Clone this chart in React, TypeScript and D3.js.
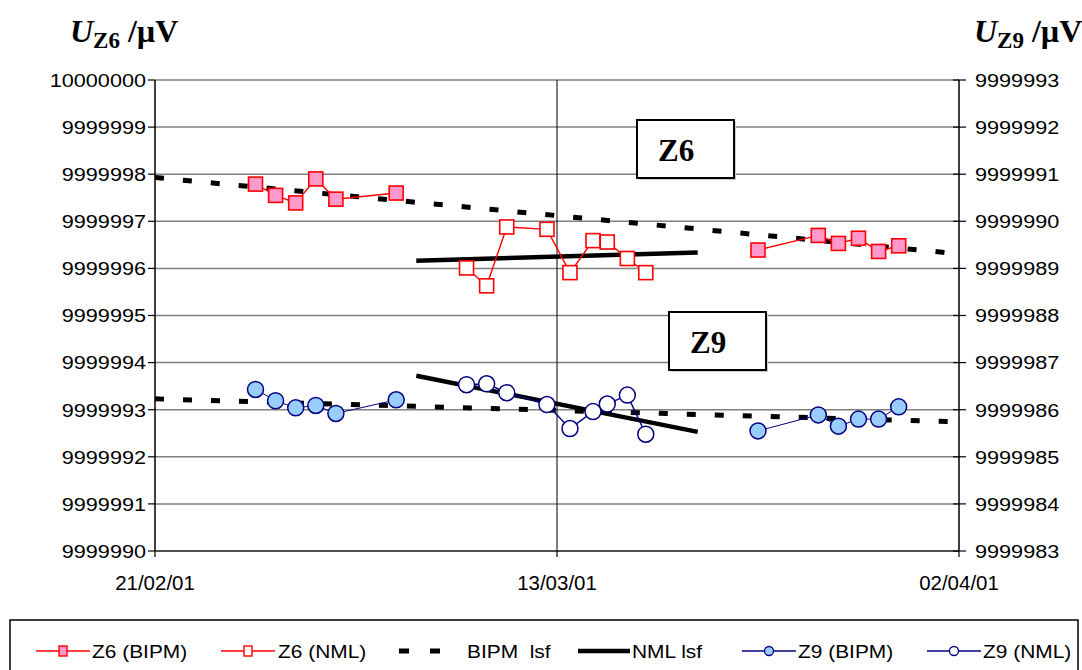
import React, { useEffect } from 'react';
import * as d3 from 'd3';

// ---- data ----
const parse = d3.timeParse('%d/%m/%y %H:%M');

const xTicks = ['21/02/01 00:00', '13/03/01 00:00', '02/04/01 00:00'];

// Z6 (BIPM) – null marks the gap between the two BIPM periods
const z6BipmDates = ['26/02/01 00:00', '27/02/01 00:00', '28/02/01 00:00', '01/03/01 00:00', '02/03/01 00:00', '05/03/01 00:00', null,
  '23/03/01 00:00', '26/03/01 00:00', '27/03/01 00:00', '28/03/01 00:00', '29/03/01 00:00', '30/03/01 00:00'];
const z6BipmValues = [9999997.79, 9999997.55, 9999997.39, 9999997.90, 9999997.47, 9999997.60, null,
  9999996.39, 9999996.70, 9999996.53, 9999996.64, 9999996.36, 9999996.48];

const nmlDates = ['08/03/01 12:00', '09/03/01 12:00', '10/03/01 12:00', '12/03/01 12:00', '13/03/01 15:30',
  '14/03/01 19:00', '15/03/01 12:00', '16/03/01 12:00', '17/03/01 10:00'];
const z6NmlValues = [9999996.01, 9999995.63, 9999996.88, 9999996.83, 9999995.91, 9999996.59, 9999996.56, 9999996.21, 9999995.91];

const z9BipmValues = [9999986.43, 9999986.19, 9999986.04, 9999986.09, 9999985.92, 9999986.21, null,
  9999985.55, 9999985.89, 9999985.65, 9999985.80, 9999985.80, 9999986.06];
const z9NmlValues = [9999986.53, 9999986.55, 9999986.36, 9999986.11, 9999985.60, 9999985.96, 9999986.12, 9999986.31, 9999985.48];

// least squares fits, as end points
const bipmLsfDates = ['21/02/01 00:00', '02/04/01 00:00'];
const z6BipmLsf = [9999997.93, 9999996.31];
const z9BipmLsf = [9999986.23, 9999985.74];
const nmlLsfDates = ['06/03/01 00:00', '20/03/01 00:00'];
const z6NmlLsf = [9999996.16, 9999996.34];
const z9NmlLsf = [9999986.72, 9999985.53];

type Pt = { d: Date | null; v: number | null };
const zip = (dates: (string | null)[], vals: (number | null)[]): Pt[] =>
  dates.map((s, i) => ({ d: s ? parse(s) : null, v: vals[i] }));

const W = 1082, H = 670;
const left = 155, right = 959, top = 80, bottom = 551;

const RED = '#FF0000', PINK = '#FF99CC', NAVY = '#000080', LBLUE = '#99CCFF';
const SANS = 'Arial, "Liberation Sans", sans-serif';
const SERIF = '"Times New Roman", "Liberation Serif", serif';

// the original text is a little wider than the font, so stretch it
const Stretch = ({ x, y, sx = 1.14, anchor = 'start', size = 19, children }:
  { x: number; y: number; sx?: number; anchor?: string; size?: number; children: React.ReactNode }) => (
  <text transform={`translate(${x},${y}) scale(${sx},1)`} dy="0.36em" textAnchor={anchor}
    fontFamily={SANS} fontSize={size} style={{ whiteSpace: 'pre' }}>{children}</text>
);

export default function App() {
  useEffect(() => { document.body.style.margin = '0'; }, []);

  const x = d3.scaleTime()
    .domain([parse(xTicks[0])!, parse(xTicks[2])!])
    .range([left, right]);
  const yL = d3.scaleLinear().domain([9999990, 10000000]).range([bottom, top]);
  const yR = d3.scaleLinear().domain([9999983, 9999993]).range([bottom, top]);

  const lineFor = (y: d3.ScaleLinear<number, number>) => d3.line<Pt>()
    .defined(p => p.d !== null && p.v !== null)
    .x(p => x(p.d!))
    .y(p => y(p.v!));

  const z6Bipm = zip(z6BipmDates, z6BipmValues);
  const z6Nml = zip(nmlDates, z6NmlValues);
  const z9Bipm = zip(z6BipmDates, z9BipmValues);
  const z9Nml = zip(nmlDates, z9NmlValues);

  const lL = lineFor(yL), lR = lineFor(yR);
  const leftTicks = yL.ticks(10);
  const rightTicks = yR.ticks(10);

  const sq = 14, rc = 8;

  const squares = (pts: Pt[], fill: string) => pts.filter(p => p.d && p.v !== null).map((p, i) => (
    <rect key={i} x={x(p.d!) - sq / 2} y={yL(p.v!) - sq / 2} width={sq} height={sq}
      fill={fill} stroke={RED} strokeWidth={1.6} />
  ));
  const circles = (pts: Pt[], fill: string) => pts.filter(p => p.d && p.v !== null).map((p, i) => (
    <circle key={i} cx={x(p.d!)} cy={yR(p.v!)} r={rc} fill={fill} stroke={NAVY} strokeWidth={1.5} />
  ));

  const lsf = (dates: string[], vals: number[], y: d3.ScaleLinear<number, number>) =>
    lineFor(y)(zip(dates, vals)) || '';

  const legendItems = [
    { label: 'Z6 (BIPM)', x0: 36, x1: 90, tx: 92, kind: 'sq', fill: PINK, color: RED },
    { label: 'Z6 (NML)', x0: 221, x1: 275, tx: 278, kind: 'sq', fill: '#fff', color: RED },
    { label: 'BIPM  lsf', x0: 399, x1: 441, tx: 467, kind: 'dash', fill: '', color: '#000' },
    { label: 'NML lsf', x0: 578, x1: 630, tx: 632, kind: 'solid', fill: '', color: '#000' },
    { label: 'Z9 (BIPM)', x0: 742, x1: 796, tx: 798, kind: 'ci', fill: LBLUE, color: NAVY },
    { label: 'Z9 (NML)', x0: 927, x1: 981, tx: 983, kind: 'ci', fill: '#fff', color: NAVY },
  ];
  const ly = 651;

  const box = (bx: number, by: number, label: string) => (
    <g>
      <rect x={bx + 2} y={by + 2} width={97} height={58} fill="#c8c8c8" />
      <rect x={bx} y={by} width={97} height={58} fill="#fff" stroke="#000" strokeWidth={2} />
      <text x={bx + 21} y={by + 41} fontFamily={SERIF} fontWeight="bold" fontSize={31}>{label}</text>
    </g>
  );

  const title = (tx: number, sub: string) => (
    <text x={tx} y={42} fontFamily={SERIF} fontWeight="bold" fontSize={32}>
      <tspan fontStyle="italic">U</tspan>
      <tspan fontSize={23} dy={6}>{sub}</tspan>
      <tspan dy={-6}> /µV</tspan>
    </text>
  );

  return (
    <svg width={W} height={H} style={{ display: 'block', background: '#fff' }}>
      {/* horizontal gridlines */}
      {leftTicks.map(t => (
        <line key={t} x1={left} x2={right} y1={yL(t)} y2={yL(t)} stroke="#808080" strokeWidth={1.5} />
      ))}
      {/* vertical gridline */}
      <line x1={x(parse(xTicks[1])!)} x2={x(parse(xTicks[1])!)} y1={top} y2={bottom} stroke="#000" strokeWidth={1} />
      {/* axes */}
      <line x1={left} x2={left} y1={top} y2={bottom} stroke="#000" strokeWidth={1.5} />
      <line x1={right} x2={right} y1={top} y2={bottom} stroke="#000" strokeWidth={1.5} />
      <line x1={left} x2={right} y1={bottom} y2={bottom} stroke="#333" strokeWidth={1.5} />
      {leftTicks.map(t => (
        <g key={t}>
          <line x1={left - 7} x2={left} y1={yL(t)} y2={yL(t)} stroke="#000" strokeWidth={1.2} />
          <Stretch x={146} y={yL(t)} anchor="end">{d3.format('d')(t)}</Stretch>
        </g>
      ))}
      {rightTicks.map(t => (
        <g key={t}>
          <line x1={right - 6} x2={right + 7} y1={yR(t)} y2={yR(t)} stroke="#000" strokeWidth={1.2} />
          <Stretch x={975} y={yR(t)}>{d3.format('d')(t)}</Stretch>
        </g>
      ))}
      {xTicks.map(s => (
        <g key={s}>
          <line x1={x(parse(s)!)} x2={x(parse(s)!)} y1={bottom} y2={bottom + 6} stroke="#000" strokeWidth={1.2} />
          <Stretch x={x(parse(s)!)} y={583} anchor="middle" sx={1.05} size={19.5}>{d3.timeFormat('%d/%m/%y')(parse(s)!)}</Stretch>
        </g>
      ))}

      {/* axis titles */}
      {title(70, 'Z6')}
      {title(974, 'Z9')}

      {/* label boxes */}
      {box(637, 120, 'Z6')}
      {box(669, 312, 'Z9')}

      <clipPath id="plot"><rect x={left} y={top - 10} width={right - left + 8} height={bottom - top + 20} /></clipPath>
      {/* least squares fits */}
      <g clipPath="url(#plot)">
        <path d={lsf(bipmLsfDates, z6BipmLsf, yL)} stroke="#000" strokeWidth={5} strokeDasharray="9 19" fill="none" />
        <path d={lsf(bipmLsfDates, z9BipmLsf, yR)} stroke="#000" strokeWidth={5} strokeDasharray="9 19" fill="none" />
      </g>
      <path d={lsf(nmlLsfDates, z6NmlLsf, yL)} stroke="#000" strokeWidth={4.5} fill="none" />
      <path d={lsf(nmlLsfDates, z9NmlLsf, yR)} stroke="#000" strokeWidth={4.5} fill="none" />

      {/* series */}
      <path d={lL(z6Bipm) || ''} stroke={RED} strokeWidth={1.4} fill="none" />
      <path d={lL(z6Nml) || ''} stroke={RED} strokeWidth={1.4} fill="none" />
      <path d={lR(z9Bipm) || ''} stroke={NAVY} strokeWidth={1} fill="none" />
      <path d={lR(z9Nml) || ''} stroke={NAVY} strokeWidth={1.4} fill="none" />
      {squares(z6Bipm, PINK)}
      {squares(z6Nml, '#fff')}
      {circles(z9Bipm, LBLUE)}
      {circles(z9Nml, '#fff')}

      {/* legend */}
      <rect x={10} y={620} width={1068} height={60} fill="#fff" stroke="#000" strokeWidth={1.5} />
      {legendItems.map(it => (
        <g key={it.label}>
          {it.kind === 'dash' ? (
            <line x1={it.x0} x2={it.x1} y1={ly} y2={ly} stroke="#000" strokeWidth={5} strokeDasharray="10 21" />
          ) : it.kind === 'solid' ? (
            <line x1={it.x0} x2={it.x1} y1={ly} y2={ly} stroke="#000" strokeWidth={4.5} />
          ) : (
            <line x1={it.x0} x2={it.x1} y1={ly} y2={ly} stroke={it.color} strokeWidth={1.4} />
          )}
          {it.kind === 'sq' && (
            <rect x={(it.x0 + it.x1) / 2 - 4} y={ly - 5} width={8} height={10} fill={it.fill} stroke={it.color} strokeWidth={1.4} />
          )}
          {it.kind === 'ci' && (
            <circle cx={(it.x0 + it.x1) / 2} cy={ly} r={4.5} fill={it.fill} stroke={it.color} strokeWidth={1.3} />
          )}
          <Stretch x={it.tx} y={ly} sx={1.1}>{it.label}</Stretch>
        </g>
      ))}
    </svg>
  );
}
